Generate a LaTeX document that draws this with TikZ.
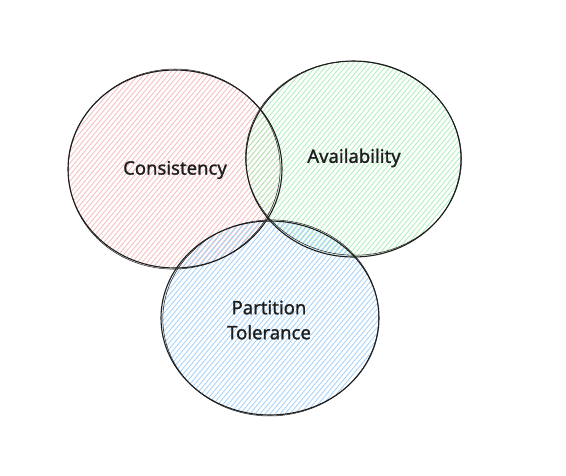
\documentclass[tikz,border=0pt]{standalone}
\usepackage{fontspec}
\setmainfont{Noto Sans}[FakeBold=1.2]
\usetikzlibrary{shapes.geometric}
\definecolor{redh}{HTML}{F7B8B8}
\definecolor{greenh}{HTML}{A8EEB2}
\definecolor{blueh}{HTML}{9CCFFA}
\definecolor{ink}{HTML}{1E1E1E}
\tikzset{
  venn/.style={ellipse, inner sep=0pt, draw=none},
  hatchfill/.style={path picture={
    \foreach \d in {-320,-315,...,320}{
      \draw[#1, line width=0.75pt] ([xshift={\d pt-110pt}, yshift=-132pt]path picture bounding box.center) -- ++(220pt,264pt);
    }}},
  outline/.style={draw=ink, line width=1.1pt},
  sketch/.style={draw=ink, line width=0.5pt},
  lbl/.style={font=\fontsize{18.5}{25}\bfseries, text=ink, align=center, inner sep=0pt}
}
\begin{document}
\begin{tikzpicture}[x=1pt,y=-1pt]
\useasboundingbox (0,0) rectangle (566,475);
\fill[white] (0,0) rectangle (566,475);
% hatched fills
\node[venn, minimum width=214pt, minimum height=198pt, hatchfill=redh] (cR) at (175,169) {};
\node[venn, minimum width=215pt, minimum height=196pt, hatchfill=greenh] (cG) at (353.5,159) {};
\node[venn, minimum width=218pt, minimum height=194pt, hatchfill=blueh] (cB) at (270,318) {};
% outlines
\draw[outline] (cR.center) ellipse [x radius=107pt, y radius=99pt];
\draw[sketch, rotate around={4:(cR.center)}] ([xshift=-0.8pt]cR.center) ellipse [x radius=106pt, y radius=100pt];
\draw[outline] (cG.center) ellipse [x radius=107.5pt, y radius=98pt];
\draw[sketch, rotate around={-3:(cG.center)}] ([yshift=0.8pt]cG.center) ellipse [x radius=108pt, y radius=97pt];
\draw[outline] (cB.center) ellipse [x radius=109pt, y radius=97pt];
\draw[sketch, rotate around={3:(cB.center)}] ([xshift=0.8pt]cB.center) ellipse [x radius=108pt, y radius=98pt];
% labels
\node[lbl] (tC) at (175,170) {Consistency};
\node[lbl] (tA) at (354,158) {Availability};
\node[lbl] (tP) at (269,320) {Partition\\Tolerance};
\end{tikzpicture}
\end{document}
